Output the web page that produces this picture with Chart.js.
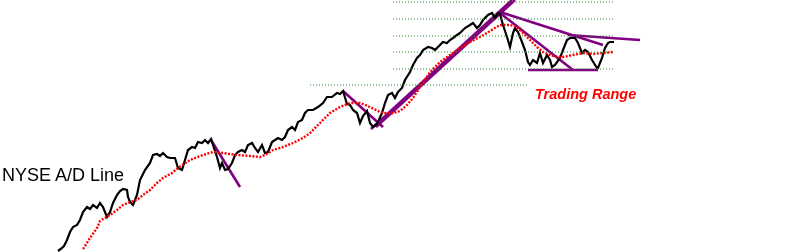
<!DOCTYPE html>
<html lang="en">
<head>
    <meta charset="UTF-8">
    <title>NYSE A/D Line</title>
    <script src="https://cdn.jsdelivr.net/npm/chart.js"></script>
    <style>
        body { margin: 0; background: #fff; }
        #wrap { position: relative; width: 800px; height: 252px; overflow: hidden; }
        .label { position: absolute; white-space: nowrap; font-family: "Liberation Sans", Arial, sans-serif; }
        #adLabel { left: 2px; top: 165px; font-size: 18px; color: #000; }
        #rangeLabel { left: 535px; top: 86px; font-size: 14.5px; font-weight: bold; font-style: italic; color: #ff0000; }
    </style>
</head>
<body>
    <div id="wrap">
        <canvas id="adChart" width="800" height="252"></canvas>
        <div class="label" id="adLabel">NYSE A/D Line</div>
        <div class="label" id="rangeLabel">Trading Range</div>
    </div>

    <script>
        // NYSE A/D line (day index, level)
        const adDays = [58,62,64,67,70,73,77,80,83,87,90,93,97,100,103,107,110,113,117,120,123,127,128,130,133,137,140,145,150,153,157,160,163,167,170,175,178,182,185,188,192,195,198,202,205,208,211,213,217,220,222,225,228,232,235,238,242,245,248,252,255,258,262,265,268,272,275,278,282,285,288,292,295,298,302,305,308,313,318,323,327,332,337,340,343,347,350,353,357,360,363,367,370,373,377,382,385,388,392,395,398,402,405,410,413,417,420,423,428,432,435,438,443,447,450,453,457,460,465,470,473,477,480,483,488,492,495,498,500,503,507,510,513,515,518,522,525,528,530,533,537,540,543,547,550,552,555,560,563,567,570,575,578,582,585,588,592,597,598,602,605,608,610,614];
        const adLevel = [1,4,6,12,20,25,27,32,40,45,43,47,44,49,45,35,40,49,57,61,63,62,55,50,47,57,72,82,89,97,98,96,99,95,94,94,84,82,92,102,105,104,110,109,112,109,113,107,95,84,89,82,83,89,97,100,102,100,107,109,104,100,107,99,100,110,112,114,112,115,122,125,122,130,132,139,142,142,145,149,155,155,159,158,161,148,147,142,139,129,136,141,129,125,128,139,149,157,159,154,160,164,172,180,187,194,197,202,205,204,202,205,210,209,212,214,217,219,224,227,229,224,227,232,237,239,234,239,238,227,215,205,219,224,220,210,202,190,187,192,189,199,189,197,192,185,187,194,202,212,214,214,209,199,202,200,192,184,184,194,204,209,210,210];

        // moving average of the A/D line
        const maDays = [83,85,90,97,100,103,110,117,123,130,137,143,150,157,163,172,178,190,200,213,223,237,250,260,265,273,283,293,303,310,320,330,340,350,360,370,380,390,400,407,413,420,430,440,450,460,470,480,490,500,510,517,523,530,537,543,550,557,563,573,583,593,603,613];
        const maLevel = [3,6,14,24,31,33,37,42,47,50,52,57,62,69,74,79,84,92,96,100,99,97,96,95,97,102,105,109,114,119,129,139,145,149,149,145,140,138,141,147,154,165,180,190,197,204,210,215,221,227,227,225,219,212,205,200,197,195,195,197,199,198,199,200];

        // price levels marked across the top
        const gridLevels = [250, 233, 216, 200, 183, 167];
        const gridFrom = [393, 393, 393, 393, 393, 310];
        const gridTo = [615, 615, 615, 615, 615, 527];

        // trend lines: [startDay, startLevel, endDay, endLevel]
        const trendLines = [
            [211, 112, 240, 65],
            [343, 161, 383, 125],
            [371, 123, 512, 252],
            [376, 125, 515, 252],
            [500, 240, 603, 207],
            [568, 217, 640, 212],
            [500, 239, 573, 182],
            [528, 182, 598, 182]
        ];

        function toPoints(xs, ys) {
            return xs.map((x, i) => ({ x: x, y: ys[i] }));
        }

        const datasets = [];

        gridLevels.forEach((lvl, i) => {
            datasets.push({
                data: [{ x: gridFrom[i], y: lvl }, { x: gridTo[i], y: lvl }],
                borderColor: '#2f8f2f',
                borderWidth: 1,
                borderDash: [1, 2]
            });
        });

        datasets.push({
            data: toPoints(maDays, maLevel),
            borderColor: '#ff0000',
            borderWidth: 2.4,
            borderDash: [2, 1.5]
        });

        datasets.push({
            data: toPoints(adDays, adLevel),
            borderColor: '#000000',
            borderWidth: 2.2
        });

        trendLines.forEach(t => {
            datasets.push({
                data: [{ x: t[0], y: t[1] }, { x: t[2], y: t[3] }],
                borderColor: '#800080',
                borderWidth: 2.6
            });
        });

        const ctx = document.getElementById('adChart').getContext('2d');
        new Chart(ctx, {
            type: 'line',
            data: { datasets: datasets },
            options: {
                responsive: false,
                animation: false,
                layout: { padding: 0 },
                elements: {
                    point: { radius: 0 },
                    line: { tension: 0, fill: false }
                },
                plugins: {
                    legend: { display: false },
                    tooltip: { enabled: false }
                },
                scales: {
                    x: { type: 'linear', min: 0, max: 800, display: false },
                    y: { type: 'linear', min: 0, max: 252, display: false }
                }
            }
        });
    </script>
</body>
</html>
